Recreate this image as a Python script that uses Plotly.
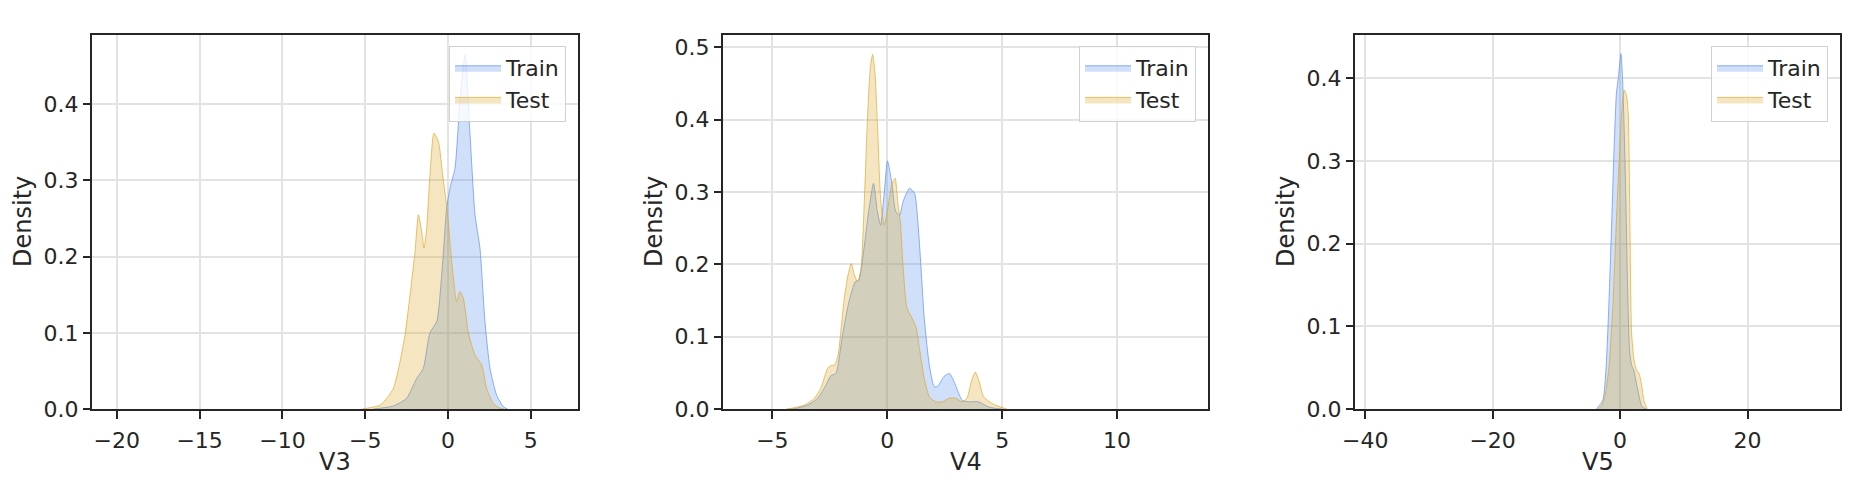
import plotly.graph_objects as go
from plotly.subplots import make_subplots

# ---- data ----
features = ["V3", "V4", "V5"]

v3_train_x = [-4.5, -4.1, -3.3, -2.5, -1.9, -1.5, -1.09, -0.68, -0.38, -0.08, 0.12, 0.42, 0.72, 1.03, 1.33, 1.63, 1.93, 2.23, 2.54, 2.94, 3.34, 3.6]
v3_train_y = [0.0, 0.001, 0.004, 0.014, 0.04, 0.053, 0.10, 0.115, 0.176, 0.264, 0.29, 0.316, 0.404, 0.465, 0.36, 0.255, 0.211, 0.115, 0.053, 0.018, 0.003, 0.0]
v3_test_x = [-5.2, -4.9, -4.1, -3.7, -3.3, -2.9, -2.6, -2.29, -1.99, -1.79, -1.59, -1.45, -1.29, -1.09, -0.85, -0.58, -0.32, -0.04, 0.22, 0.52, 0.72, 0.93, 1.23, 1.63, 2.03, 2.33, 2.74, 3.14, 3.4]
v3_test_y = [0.0, 0.001, 0.005, 0.014, 0.027, 0.062, 0.097, 0.15, 0.207, 0.255, 0.233, 0.211, 0.237, 0.307, 0.362, 0.351, 0.307, 0.259, 0.194, 0.141, 0.154, 0.145, 0.10, 0.071, 0.058, 0.027, 0.007, 0.001, 0.0]

v4_train_x = [-4.3, -4.03, -3.46, -3.03, -2.67, -2.46, -2.24, -1.96, -1.67, -1.39, -1.24, -1.03, -0.81, -0.6, -0.43, -0.29, -0.14, 0.01, 0.19, 0.37, 0.54, 0.69, 0.97, 1.19, 1.33, 1.47, 1.61, 1.83, 2.04, 2.19, 2.47, 2.71, 2.97, 3.26, 3.54, 3.97, 4.4, 4.69, 5.0]
v4_train_y = [0.0, 0.0005, 0.0055, 0.015, 0.033, 0.046, 0.049, 0.10, 0.148, 0.176, 0.178, 0.218, 0.273, 0.312, 0.273, 0.254, 0.296, 0.343, 0.314, 0.273, 0.268, 0.287, 0.305, 0.298, 0.259, 0.195, 0.125, 0.061, 0.031, 0.031, 0.045, 0.049, 0.033, 0.012, 0.010, 0.010, 0.003, 0.001, 0.0]
v4_test_x = [-4.4, -4.17, -3.6, -3.17, -2.89, -2.6, -2.46, -2.29, -2.14, -1.89, -1.71, -1.57, -1.43, -1.29, -1.14, -1.0, -0.86, -0.74, -0.64, -0.53, -0.41, -0.29, -0.14, 0.0, 0.19, 0.34, 0.47, 0.57, 0.69, 0.86, 1.04, 1.26, 1.4, 1.61, 1.83, 2.11, 2.4, 2.69, 2.97, 3.26, 3.47, 3.66, 3.83, 4.0, 4.19, 4.54, 4.9, 5.2]
v4_test_y = [0.0, 0.001, 0.0055, 0.015, 0.029, 0.056, 0.060, 0.061, 0.075, 0.148, 0.185, 0.201, 0.185, 0.176, 0.195, 0.287, 0.402, 0.471, 0.490, 0.462, 0.379, 0.291, 0.254, 0.273, 0.310, 0.319, 0.282, 0.259, 0.195, 0.139, 0.128, 0.112, 0.084, 0.042, 0.017, 0.010, 0.010, 0.015, 0.015, 0.010, 0.015, 0.038, 0.051, 0.038, 0.017, 0.008, 0.003, 0.0]

v5_train_x = [-3.7, -2.7, -2.2, -1.74, -1.29, -0.9, -0.58, -0.26, 0.13, 0.39, 0.65, 0.9, 1.16, 1.48, 1.8, 2.13, 2.77, 3.42, 4.06]
v5_train_y = [0.0, 0.011, 0.051, 0.132, 0.233, 0.325, 0.382, 0.402, 0.430, 0.398, 0.334, 0.253, 0.152, 0.071, 0.053, 0.047, 0.023, 0.003, 0.0]
v5_test_x = [-3.35, -2.84, -2.4, -1.74, -1.1, -0.45, 0.0, 0.39, 0.65, 1.03, 1.29, 1.55, 1.8, 2.19, 2.58, 2.97, 3.35, 3.74, 4.26]
v5_test_y = [0.0, 0.005, 0.015, 0.051, 0.132, 0.253, 0.325, 0.374, 0.386, 0.378, 0.354, 0.213, 0.092, 0.059, 0.047, 0.043, 0.030, 0.010, 0.0]

y_title = "Density"
x_ranges = [[-21.5, 7.85], [-7.15, 13.96], [-41.6, 34.5]]
y_ranges = [[0, 0.491], [0, 0.517], [0, 0.4525]]
x_dtick = [5, 5, 20]

train_sets = [(v3_train_x, v3_train_y), (v4_train_x, v4_train_y), (v5_train_x, v5_train_y)]
test_sets = [(v3_test_x, v3_test_y), (v4_test_x, v4_test_y), (v5_test_x, v5_test_y)]

# ---- styling ----
W, H = 1863, 486
FONT = "DejaVu Sans"
TXT = "#262626"
train_fill = "rgba(100,149,237,0.30)"
train_line = "rgba(100,149,237,0.75)"
test_fill = "rgba(218,165,32,0.28)"
test_line = "rgba(218,165,32,0.65)"

x_px = [(92, 578), (723, 1208), (1355, 1840)]
y_top, y_bot = 35, 409
y_dom = [1 - y_bot / H, 1 - y_top / H]

fig = make_subplots(rows=1, cols=3)

for i in range(3):
    leg = "legend" if i == 0 else f"legend{i+1}"
    tx, ty = train_sets[i]
    sx, sy = test_sets[i]
    fig.add_trace(go.Scatter(x=tx, y=ty, name="Train", mode="lines", fill="tozeroy",
                             fillcolor=train_fill, line=dict(color=train_line, width=1, shape="spline", smoothing=0.6),
                             legend=leg), row=1, col=i + 1)
    fig.add_trace(go.Scatter(x=sx, y=sy, name="Test", mode="lines", fill="tozeroy",
                             fillcolor=test_fill, line=dict(color=test_line, width=1, shape="spline", smoothing=0.6),
                             legend=leg), row=1, col=i + 1)

layout_updates = {}
annotations = []
for i in range(3):
    sfx = "" if i == 0 else str(i + 1)
    x0, x1 = x_px[i]
    layout_updates[f"xaxis{sfx}"] = dict(
        domain=[x0 / W, x1 / W], range=x_ranges[i], dtick=x_dtick[i], tick0=0,
        automargin=False,
        showgrid=True, gridcolor="#e3e3e3", gridwidth=1.5, zeroline=False,
        showline=True, linecolor="#262626", linewidth=2, mirror=True,
        ticks="outside", ticklen=8, tickwidth=1.5, tickcolor="#262626",
        ticklabelstandoff=3,
        tickfont=dict(family=FONT, size=22, color=TXT),
    )
    layout_updates[f"yaxis{sfx}"] = dict(
        domain=y_dom, range=y_ranges[i], dtick=0.1, tickformat=".1f",
        automargin=False,
        showgrid=True, gridcolor="#e3e3e3", gridwidth=1.5, zeroline=False,
        showline=True, linecolor="#262626", linewidth=2, mirror=True,
        ticks="outside", ticklen=7, tickwidth=1.5, tickcolor="#262626",
        ticklabelstandoff=0,
        tickfont=dict(family=FONT, size=22, color=TXT),
    )
    annotations.append(dict(
        text=features[i], xref="paper", yref="paper",
        x=(x0 + x1) / 2 / W, y=1 - 462 / H, xanchor="center", yanchor="middle",
        showarrow=False, font=dict(family=FONT, size=24, color=TXT),
    ))
    annotations.append(dict(
        text=y_title, xref="paper", yref="paper", textangle=-90,
        x=(x0 - 69) / W, y=1 - (y_top + y_bot) / 2 / H, xanchor="center", yanchor="middle",
        showarrow=False, font=dict(family=FONT, size=24, color=TXT),
    ))
    leg = "legend" if i == 0 else f"legend{i+1}"
    layout_updates[leg] = dict(
        x=(x1 - 12) / W, xanchor="right", y=1 - 46 / H, yanchor="top",
        bgcolor="rgba(255,255,255,0.8)", bordercolor="#d0d0d0", borderwidth=1,
        font=dict(family=FONT, size=22, color=TXT), itemwidth=46,
        tracegroupgap=2,
    )

fig.update_layout(**layout_updates)
fig.update_layout(
    width=W, height=H, margin=dict(l=0, r=0, t=0, b=0, autoexpand=False),
    paper_bgcolor="white", plot_bgcolor="white", showlegend=True,
    font=dict(family=FONT, color=TXT), annotations=annotations,
)

fig.write_html("out.html", config={"displayModeBar": False},
               post_script="document.body.style.margin='0';document.body.style.overflow='hidden';")
